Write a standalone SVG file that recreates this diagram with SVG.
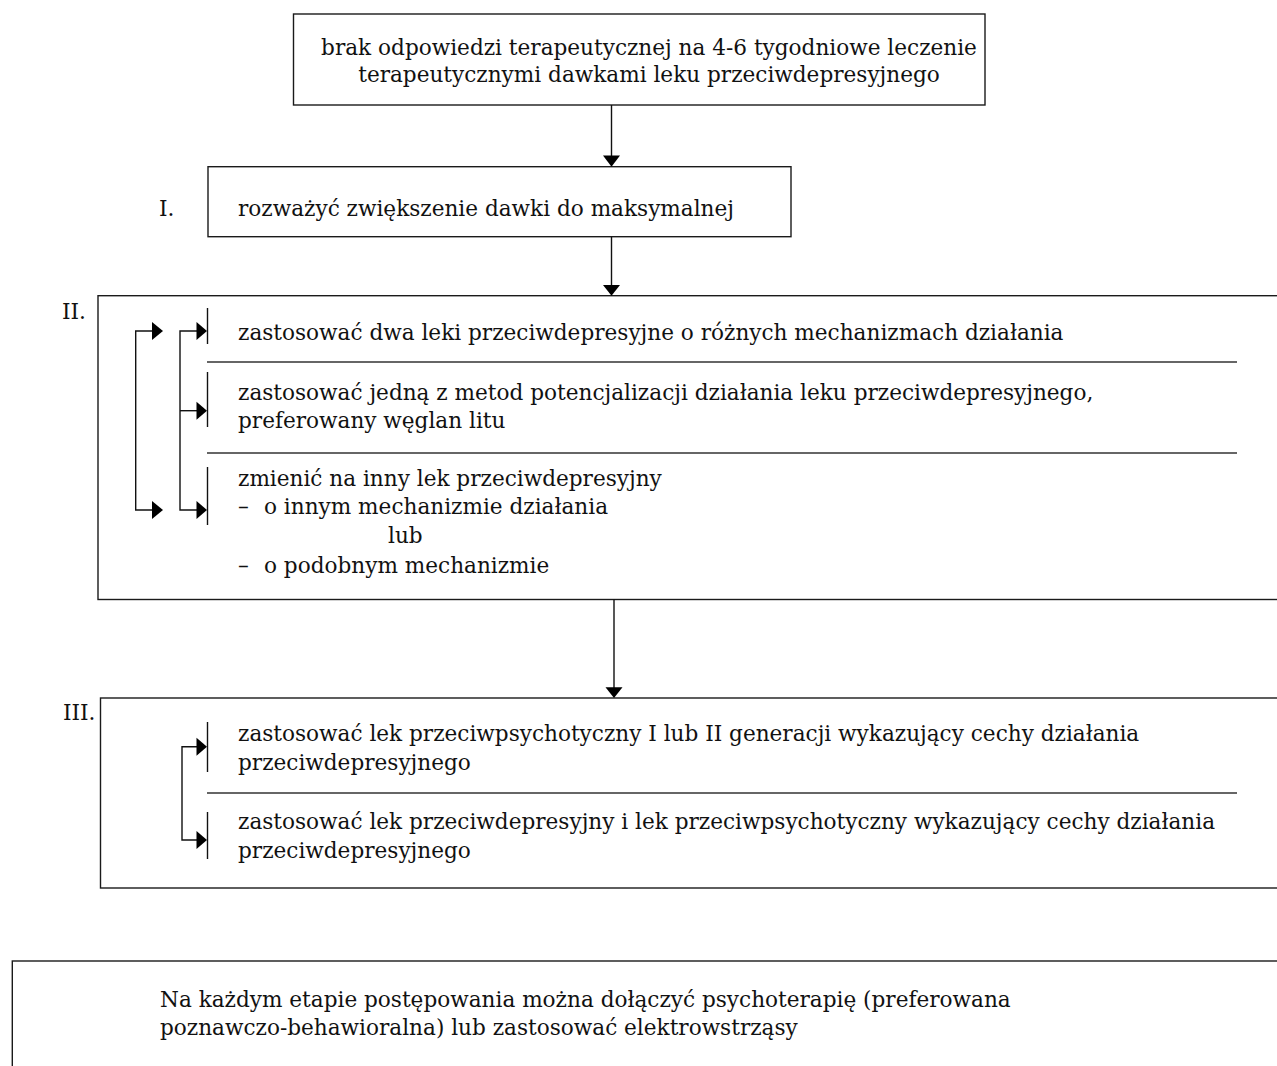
<svg xmlns="http://www.w3.org/2000/svg" width="1277" height="1066" viewBox="0 0 1277 1066">
<style>
.box{fill:none;stroke:#1a1a1a;stroke-width:1.4}
.sep{fill:none;stroke:#333;stroke-width:1.6}
.ln{fill:none;stroke:#111;stroke-width:1.4}
.ah{fill:#000;stroke:none}
text{font-family:"DejaVu Serif","Liberation Serif",serif;font-size:21.6px;fill:#111}
.c{text-anchor:middle}
</style>
<rect width="1277" height="1066" fill="#fff"/>
<g id="start">
<rect class="box" x="293.5" y="14" width="691.5" height="91"/>
<text class="c" x="649" y="55">brak odpowiedzi terapeutycznej na 4-6 tygodniowe leczenie</text>
<text class="c" x="649" y="82">terapeutycznymi dawkami leku przeciwdepresyjnego</text>
</g>
<g id="step1">
<text x="159" y="216">I.</text>
<rect class="box" x="208" y="166.7" width="583" height="70"/>
<text x="238" y="216">rozważyć zwiększenie dawki do maksymalnej</text>
</g>
<g id="step2">
<text x="62" y="319">II.</text>
<rect class="box" x="98" y="295.7" width="1200" height="303.8"/>
<line class="sep" x1="207" y1="362" x2="1237" y2="362"/>
<line class="sep" x1="207" y1="453" x2="1237" y2="453"/>
<line class="ln" x1="207.5" y1="308" x2="207.5" y2="344"/>
<line class="ln" x1="207.5" y1="372" x2="207.5" y2="427"/>
<line class="ln" x1="207.5" y1="467" x2="207.5" y2="525"/>
<text x="238" y="340">zastosować dwa leki przeciwdepresyjne o różnych mechanizmach działania</text>
<text x="238" y="400">zastosować jedną z metod potencjalizacji działania leku przeciwdepresyjnego,</text>
<text x="238" y="428">preferowany węglan litu</text>
<text x="238" y="486">zmienić na inny lek przeciwdepresyjny</text>
<text x="238" y="514">–<tspan x="264">o innym mechanizmie działania</tspan></text>
<text x="388" y="543">lub</text>
<text x="238" y="573">–<tspan x="264">o podobnym mechanizmie</tspan></text>
</g>
<g id="step3">
<text x="63" y="720">III.</text>
<rect class="box" x="100.5" y="698" width="1200" height="190"/>
<line class="sep" x1="207" y1="793" x2="1237" y2="793"/>
<line class="ln" x1="207.5" y1="722" x2="207.5" y2="772"/>
<line class="ln" x1="207.5" y1="812" x2="207.5" y2="859"/>
<text x="238" y="741">zastosować lek przeciwpsychotyczny I lub II generacji wykazujący cechy działania</text>
<text x="238" y="770">przeciwdepresyjnego</text>
<text x="238" y="829">zastosować lek przeciwdepresyjny i lek przeciwpsychotyczny wykazujący cechy działania</text>
<text x="238" y="858">przeciwdepresyjnego</text>
</g>
<g id="note">
<rect class="box" x="12.3" y="961" width="1300" height="200"/>
<text x="160" y="1007">Na każdym etapie postępowania można dołączyć psychoterapię (preferowana</text>
<text x="160" y="1035">poznawczo-behawioralna) lub zastosować elektrowstrząsy</text>
</g>
<g id="connectors">
<line class="ln" x1="611.5" y1="105" x2="611.5" y2="156"/>
<polygon class="ah" points="603,155.5 620,155.5 611.5,166.7"/>
<line class="ln" x1="611.5" y1="236.7" x2="611.5" y2="286"/>
<polygon class="ah" points="603,285 620,285 611.5,295.7"/>
<line class="ln" x1="614" y1="599.5" x2="614" y2="688"/>
<polygon class="ah" points="605.5,687.3 622.5,687.3 614,698"/>
<polyline class="ln" points="152,331 135.7,331 135.7,510 152,510"/>
<polygon class="ah" points="152,322 152,340 163,331"/>
<polygon class="ah" points="152,501 152,519 163,510"/>
<polyline class="ln" points="197,331 180,331 180,510 197,510"/>
<line class="ln" x1="180" y1="410.7" x2="197" y2="410.7"/>
<polygon class="ah" points="196.5,322 196.5,340 207,331"/>
<polygon class="ah" points="196.5,401.7 196.5,419.7 207,410.7"/>
<polygon class="ah" points="196.5,501 196.5,519 207,510"/>
<polyline class="ln" points="197,746.7 182,746.7 182,840 197,840"/>
<polygon class="ah" points="196.5,737.7 196.5,755.7 207,746.7"/>
<polygon class="ah" points="196.5,831 196.5,849 207,840"/>
</g>
</svg>
